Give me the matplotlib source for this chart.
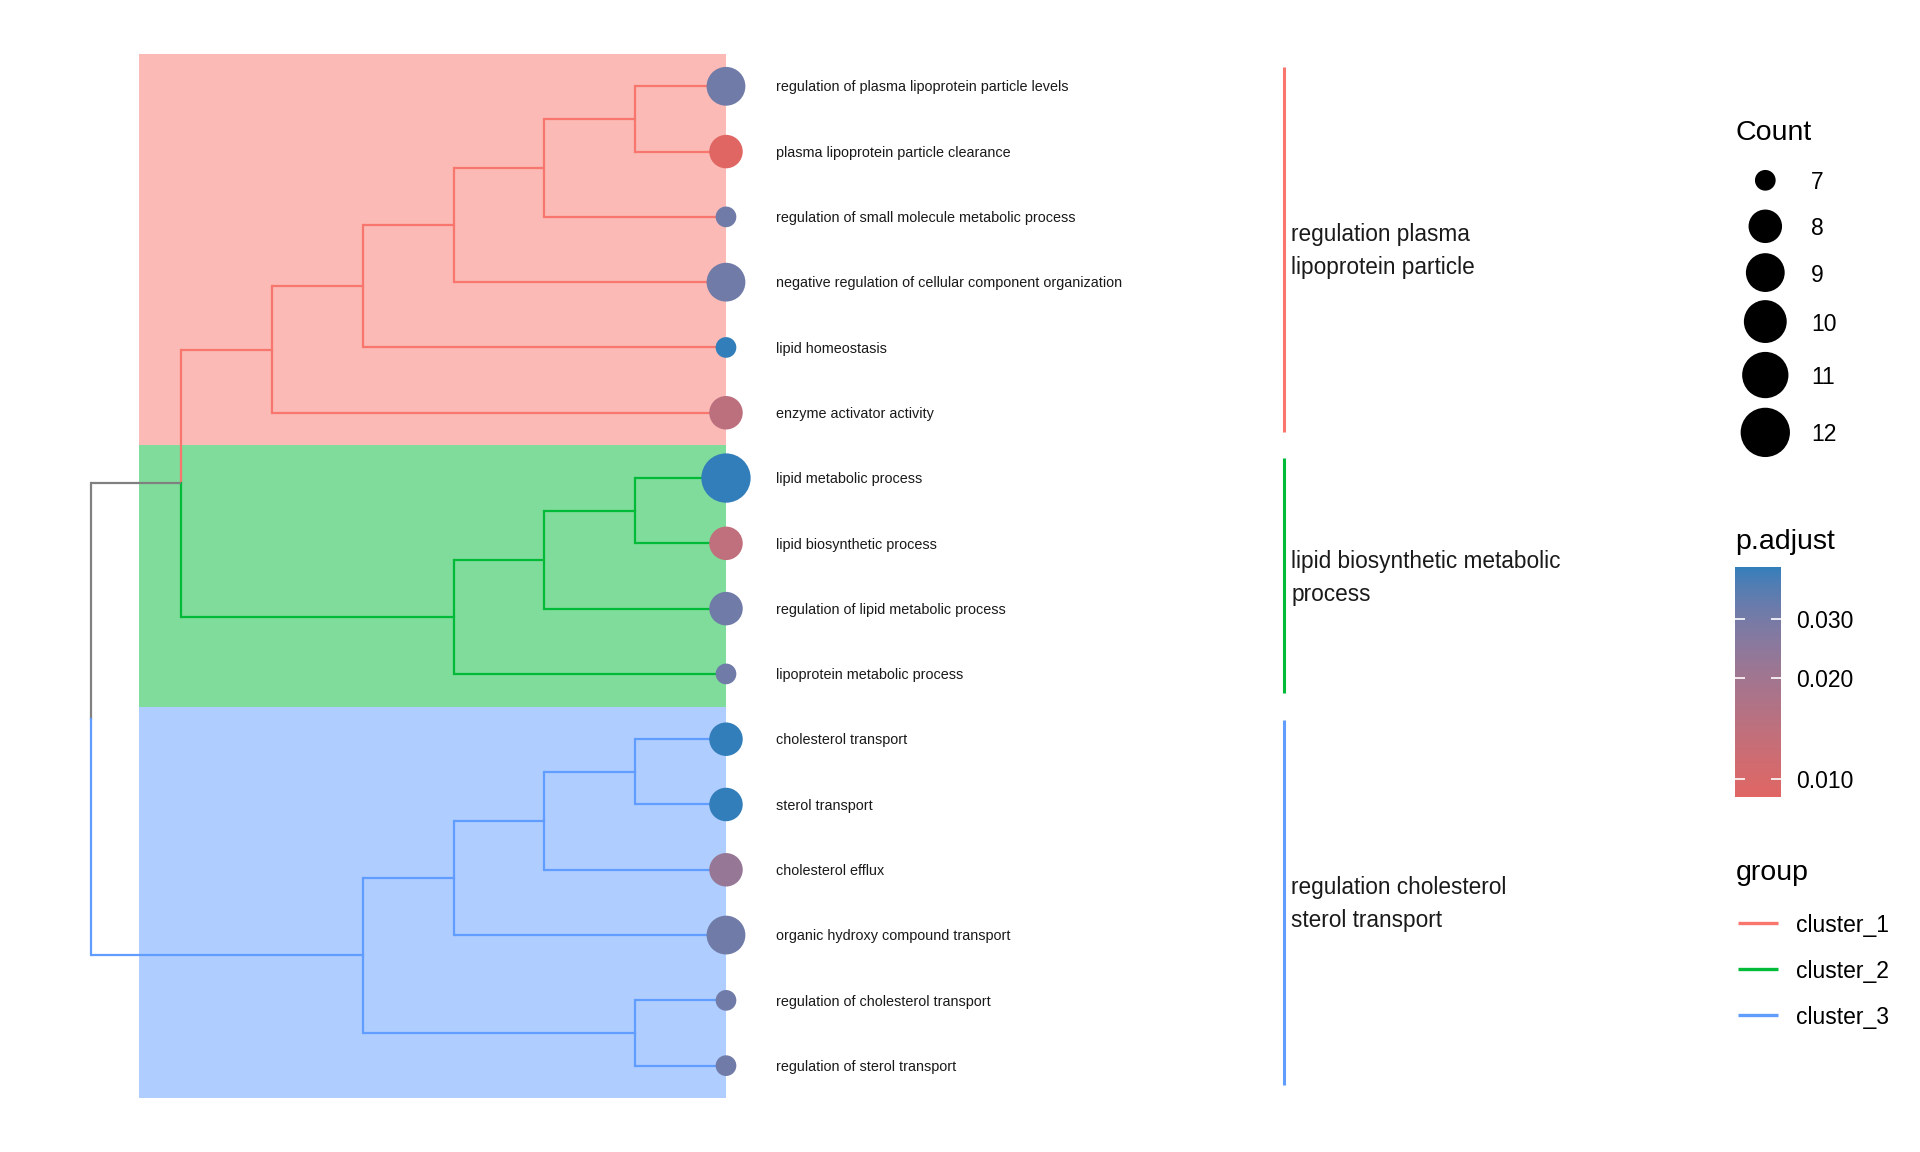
import numpy as np
import matplotlib
matplotlib.use('Agg')
import matplotlib.pyplot as plt
from matplotlib.colors import LogNorm, ListedColormap, to_rgb
from matplotlib.cm import ScalarMappable
from matplotlib.patches import Rectangle
from matplotlib.transforms import offset_copy
from matplotlib.ticker import NullLocator, FixedLocator, FixedFormatter

plt.rcParams['font.family'] = ['Liberation Sans', 'DejaVu Sans']

# ---------------- data ----------------
terms = [
    "regulation of plasma lipoprotein particle levels",
    "plasma lipoprotein particle clearance",
    "regulation of small molecule metabolic process",
    "negative regulation of cellular component organization",
    "lipid homeostasis",
    "enzyme activator activity",
    "lipid metabolic process",
    "lipid biosynthetic process",
    "regulation of lipid metabolic process",
    "lipoprotein metabolic process",
    "cholesterol transport",
    "sterol transport",
    "cholesterol efflux",
    "organic hydroxy compound transport",
    "regulation of cholesterol transport",
    "regulation of sterol transport",
]
counts = [9, 8, 7, 9, 7, 8, 12, 8, 8, 7, 8, 8, 8, 9, 7, 7]
p_adjust = [0.0312, 0.00884, 0.0312, 0.0312, 0.0429, 0.0145, 0.0429, 0.0138,
            0.0312, 0.0312, 0.0429, 0.0429, 0.0222, 0.0312, 0.0312, 0.0312]
leaf_cluster = [0, 0, 0, 0, 0, 0, 1, 1, 1, 1, 2, 2, 2, 2, 2, 2]
cluster_names = ["cluster_1", "cluster_2", "cluster_3"]
cluster_labels = [["regulation plasma", "lipoprotein particle"],
                  ["lipid biosynthetic metabolic", "process"],
                  ["regulation cholesterol", "sterol transport"]]
group_colors = ["#F8766D", "#00BA38", "#619CFF"]
# hclust-style merges: negative = leaf -(i+1), positive = earlier merge step (1-based)
merges = [(-1, -2), (1, -3), (2, -4), (3, -5), (4, -6),
          (-7, -8), (6, -9), (7, -10), (5, 8),
          (-11, -12), (10, -13), (11, -14), (-15, -16), (12, 13),
          (9, 14)]
cbar_ticks = [0.010, 0.020, 0.030]
p_low, p_high = 0.00884, 0.0429
low_col, high_col = "#e06663", "#327eba"

# ---------------- colour ramp in CIELAB (like ggplot) ----------------
M = np.array([[0.4124564, 0.3575761, 0.1804375],
              [0.2126729, 0.7151522, 0.0721750],
              [0.0193339, 0.1191920, 0.9503041]])
WHITE = np.array([0.95047, 1.0, 1.08883])
def srgb_to_lab(rgb):
    c = np.asarray(rgb, float)
    lin = np.where(c <= 0.04045, c / 12.92, ((c + 0.055) / 1.055) ** 2.4)
    xyz = M @ lin / WHITE
    d = 6 / 29
    f = np.where(xyz > d ** 3, np.cbrt(xyz), xyz / (3 * d * d) + 4 / 29)
    return np.array([116 * f[1] - 16, 500 * (f[0] - f[1]), 200 * (f[1] - f[2])])
def lab_to_srgb(lab):
    L, a, b = lab
    fy = (L + 16) / 116
    fx = fy + a / 500
    fz = fy - b / 200
    d = 6 / 29
    f = np.array([fx, fy, fz])
    xyz = np.where(f > d, f ** 3, 3 * d * d * (f - 4 / 29)) * WHITE
    lin = np.linalg.solve(M, xyz)
    lin = np.clip(lin, 0, 1)
    c = np.where(lin <= 0.0031308, 12.92 * lin, 1.055 * lin ** (1 / 2.4) - 0.055)
    return np.clip(c, 0, 1)
lab_lo, lab_hi = srgb_to_lab(to_rgb(low_col)), srgb_to_lab(to_rgb(high_col))
cmap = ListedColormap([lab_to_srgb(lab_lo + t * (lab_hi - lab_lo)) for t in np.linspace(0, 1, 256)])
norm = LogNorm(vmin=p_low, vmax=p_high)

# ---------------- size mapping (area scale) ----------------
cmin, cmax = min(counts), max(counts)
D_MIN_PX, D_MAX_PX = 20.7, 49.3
DPI = 100
def diam_px(c):
    return D_MIN_PX + (D_MAX_PX - D_MIN_PX) * np.sqrt((np.asarray(c, float) - cmin) / (cmax - cmin))
def size_pts2(c):
    return (diam_px(c) * 72 / DPI) ** 2

# ---------------- tree layout ----------------
n_leaf = len(terms)
node_y, node_h, node_grp, children = {}, {}, {}, {}
def key(v):
    return ('L', -v - 1) if v < 0 else ('N', v)
for i in range(n_leaf):
    node_y[('L', i)] = i
    node_h[('L', i)] = 0
    node_grp[('L', i)] = leaf_cluster[i]
for s, (a, b) in enumerate(merges, start=1):
    ka, kb = key(a), key(b)
    k = ('N', s)
    children[k] = (ka, kb)
    node_y[k] = (node_y[ka] + node_y[kb]) / 2
    node_h[k] = 1 + max(node_h[ka], node_h[kb])
    node_grp[k] = node_grp[ka] if node_grp[ka] == node_grp[kb] else -1
root = ('N', len(merges))
H = node_h[root]
node_x = {k: H - h for k, h in node_h.items()}

# ---------------- figure ----------------
W, HH = 1920, 1152
fig = plt.figure(figsize=(W / DPI, HH / DPI), dpi=DPI)
PX_X0, PX_LEVEL, PX_Y0, PX_LEAF = 90.6, 90.77, 86.3, 65.29
ax = fig.add_axes([0, 0, 1, 1])
ax.set_xlim(-PX_X0 / PX_LEVEL, (W - PX_X0) / PX_LEVEL)
ax.set_ylim((HH - PX_Y0) / PX_LEAF, -PX_Y0 / PX_LEAF)
ax.axis('off')

GRAY = "#808080"
def gcol(g):
    return GRAY if g < 0 else group_colors[g]

# highlight rectangles
for g in range(len(cluster_names)):
    idx = [i for i in range(n_leaf) if leaf_cluster[i] == g]
    lo, hi = min(idx), max(idx)
    ax.add_patch(Rectangle((0.53, lo - 0.5), H - 0.53, hi - lo + 1,
                           facecolor=group_colors[g], alpha=0.5, lw=0, zorder=0))

# edges
for k, (ca, cb) in children.items():
    for c in (ca, cb):
        col = gcol(node_grp[c])
        ax.plot([node_x[k], node_x[c]], [node_y[c], node_y[c]], color=col, lw=1.6,
                solid_capstyle='butt', zorder=2)
        ax.plot([node_x[k], node_x[k]], [node_y[k], node_y[c]], color=col, lw=1.6,
                solid_capstyle='projecting', zorder=2)

# tip points
leaf_pos = np.arange(n_leaf)
ax.scatter(np.full(n_leaf, H), leaf_pos, s=size_pts2(counts), c=p_adjust, cmap=cmap,
           norm=norm, linewidths=0, zorder=3)

# tip labels
FS_TIP = 10.4
tr_tip = offset_copy(ax.transData, fig=fig, x=0, y=-0.358 * FS_TIP, units='points')
for i, t in enumerate(terms):
    ax.text(7.548, i, t, fontsize=FS_TIP, va='baseline', ha='left', transform=tr_tip,
            color='#1a1a1a')

# cluster bars and labels
FS_CL = 16.3
tr_cl = offset_copy(ax.transData, fig=fig, x=0, y=-0.358 * FS_CL, units='points')
for g in range(len(cluster_names)):
    idx = [i for i in range(n_leaf) if leaf_cluster[i] == g]
    lo, hi = min(idx), max(idx)
    ax.plot([13.147, 13.147], [lo - 0.3, hi + 0.3], color=group_colors[g], lw=2.2,
            solid_capstyle='butt', zorder=2)
    mid = (lo + hi) / 2
    lines = cluster_labels[g]
    nl = len(lines)
    for j, ln in enumerate(lines):
        yy = mid + (j - (nl - 1) / 2) * 0.505
        ax.text(13.23, yy, ln, fontsize=FS_CL, va='baseline', ha='left', transform=tr_cl,
                color='#1a1a1a')

# ---------------- legends ----------------
lax = fig.add_axes([0, 0, 1, 1])
lax.set_xlim(0, W)
lax.set_ylim(HH, 0)
lax.axis('off')
FS_T, FS_L = 20.5, 16.5

# Count legend
lax.text(1735.7, 140, "Count", fontsize=FS_T, va='baseline', ha='left')
breaks = np.arange(cmin, cmax + 1)
dk = diam_px(breaks)
kh = np.maximum(46.0, dk * 1.2)
centers = 180.3 + np.concatenate([[0], np.cumsum((kh[:-1] + kh[1:]) / 2)])
lax.scatter(np.full(len(breaks), 1765.3), centers, s=size_pts2(breaks), c='black',
            linewidths=0)
for b, cy in zip(breaks, centers):
    lax.text(1811, cy, f"{b}", fontsize=FS_L, va='center_baseline', ha='left')

# p.adjust colorbar
lax.text(1735.7, 549, "p.adjust", fontsize=FS_T, va='baseline', ha='left')
cb_top, cb_bot, cb_l, cb_w = 566.7, 797.3, 1735, 46
cax = fig.add_axes([cb_l / W, 1 - cb_bot / HH, cb_w / W, (cb_bot - cb_top) / HH])
cb = fig.colorbar(ScalarMappable(norm=norm, cmap=cmap), cax=cax, orientation='vertical')
cb.outline.set_visible(False)
cax.yaxis.set_minor_locator(NullLocator())
cax.yaxis.set_major_locator(FixedLocator(cbar_ticks))
cax.yaxis.set_major_formatter(FixedFormatter([f"{t:.3f}" for t in cbar_ticks]))
cax.tick_params(axis='y', direction='in', colors='white', length=7, width=1.2,
                left=True, right=True, labelsize=FS_L, pad=11, labelcolor='black')

# group legend
lax.text(1735.7, 880, "group", fontsize=FS_T, va='baseline', ha='left')
for g, name in enumerate(cluster_names):
    yy = 922.7 + 46 * g
    lax.plot([1738, 1778], [yy, yy], color=group_colors[g], lw=2.4, solid_capstyle='butt')
    lax.text(1796, yy, name, fontsize=FS_L, va='center_baseline', ha='left')

fig.savefig("out.png", dpi=DPI, facecolor='white')
